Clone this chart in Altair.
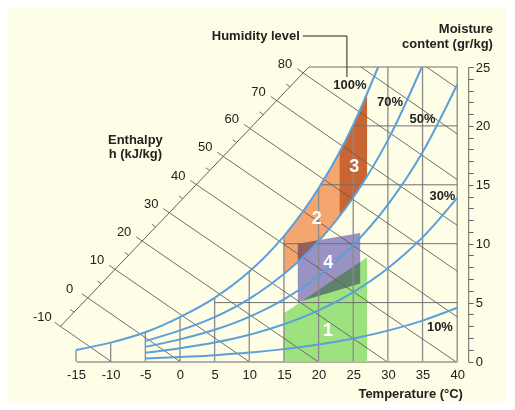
import altair as alt
import pandas as pd

# ---------------- data ----------------
temp_ticks = [-15, -10, -5, 0, 5, 10, 15, 20, 25, 30, 35, 40]
moist_ticks = list(range(0, 26))

# relative humidity curves (moisture g/kg at temperature)
sat_T = [-15, -10, -5, 0, 5, 10, 15, 20, 25, 28.6]
sat_w = [0.97, 1.6, 2.48, 3.77, 5.4, 7.63, 10.64, 14.7, 20.08, 25.0]
rh70_T = [-5, 0, 5, 10, 15, 20, 25, 30, 34.9]
rh70_w = [1.73, 2.64, 3.77, 5.32, 7.42, 10.21, 13.92, 18.79, 25.0]
rh_T = [-5, 0, 5, 10, 15, 20, 25, 30, 35, 40]
rh50_w = [1.24, 1.88, 2.69, 3.79, 5.28, 7.26, 9.88, 13.31, 17.76, 23.52]
rh30_w = [0.74, 1.13, 1.61, 2.27, 3.16, 4.34, 5.89, 7.92, 10.54, 13.90]
rh10_w = [0.25, 0.375, 0.535, 0.755, 1.05, 1.44, 1.95, 2.62, 3.47, 4.56]

# grid
vgrid_top = [0.97, 1.6, 2.48, 3.77, 5.4, 7.63, 10.64, 14.7, 20.08, 25, 25, 25]
hgrid_w = [5, 10, 15, 20, 25]
hgrid_start = [5, 15, 20.2, 25, 18.6]
hgrid_end = [40, 40, 40, 40, 40]

# enthalpy scale
h_values = [-10, 0, 10, 20, 30, 40, 50, 60, 70, 80]
h_axis_T = [-17.25, -13.31, -9.38, -5.46, -1.55, 2.34, 6.23, 10.08, 13.94, 17.76]
h_axis_w = [2.98, 5.40, 7.82, 10.23, 12.63, 15.02, 17.41, 19.78, 22.15, 24.50]
h_tick_T = [-18.1, -14.16, -10.23, -6.31, -2.4, 1.49, 5.38, 9.23, 13.09, 16.91]
h_tick_w = [3.33, 5.75, 8.17, 10.58, 12.98, 15.37, 17.76, 20.13, 22.50, 24.85]
h_end_T = [-9.94, 0, 9.94, 19.88, 29.82, 39.76, 40, 40, 40, 40]
h_end_w = [0, 0, 0, 0, 0, 0, 3.79, 7.67, 11.56, 15.44]
h_top_start_T = [26.1, 35.6]
h_top_start_w = [25, 25]
h_top_end_T = [40, 40]
h_top_end_w = [19.32, 23.2]
minor_T = [-15.28, -11.35, -7.41, -3.50, 0.40, 4.29, 8.16, 12.02, 15.86]
minor_w = [4.19, 6.61, 9.03, 11.43, 13.83, 16.22, 18.6, 20.97, 23.33]
minor_end_T = [-15.83, -11.9, -7.96, -4.05, -0.15, 3.74, 7.61, 11.47, 15.31]
minor_end_w = [4.41, 6.83, 9.25, 11.65, 14.05, 16.44, 18.82, 21.19, 23.55]
diag_T = [-17.25, 18.6]
diag_w = [2.98, 25]

# comfort regions
reg1_T = [15, 27]
reg1_lo = [0, 0]
reg1_hi = [4.1, 8.85]
reg2_T = [15, 17, 19, 21, 23]
reg2_lo = [7.41, 8.44, 9.59, 10.87, 12.31]
reg2_hi = [10.64, 12.13, 13.79, 15.65, 17.74]
reg3_T = [23, 24, 25, 26, 27]
reg3_lo = [12.31, 13.10, 13.92, 14.79, 15.72]
reg3_hi = [17.74, 18.88, 20.08, 21.35, 22.70]
reg4_T = [17, 26]
reg4_lo = [5.04, 6.63]
reg4_hi = [10.0, 10.9]

region_labels = ["1", "2", "3", "4"]
region_label_T = [21.35, 19.72, 25.14, 21.39]
region_label_w = [2.59, 12.07, 16.54, 8.34]

pct_labels = ["100%", "70%", "50%", "30%", "10%"]
pct_T = [24.52, 30.30, 34.99, 37.87, 37.51]
pct_w = [23.47, 22.03, 20.56, 14.05, 2.93]

title_texts = ["Humidity level", "Moisture", "content (gr/kg)", "Temperature (°C)"]
title_T = [17.3, 45.16, 45.16, 40.83]
title_w = [27.63, 28.24, 26.98, -2.76]

enth_title = ["Enthalpy", "h (kJ/kg)"]
enth_title_T = [-6.43, -6.43]
enth_title_w = [18.80, 17.61]

leader_x1 = [17.74, 24.09]
leader_x2 = [24.09, 24.09]
leader_y1 = [27.63, 27.63]
leader_y2 = [27.63, 24.15]

# ---------------- chart ----------------
FONT = "Liberation Sans"
BLUE = "#5B9FDB"
X = alt.Scale(domain=[-15, 40], nice=False, zero=False)
Y = alt.Scale(domain=[0, 25], nice=False, zero=False)

AX = alt.Axis(values=temp_ticks, ticks=False, tickSize=0, grid=False,
              labelExpr="'' + datum.value",
              labelPadding=7, labelFont=FONT, labelFontSize=13,
              labelColor="#222", domainColor="#666", labelFlush=False, title=None)
AY = alt.Axis(orient="right", values=moist_ticks, grid=False,
              labelExpr="datum.value % 5 == 0 ? '' + datum.value : ''",
              tickSize=5, tickColor="#666", domainColor="#666",
              offset=11, labelPadding=2, labelFont=FONT,
              labelFontSize=13, labelColor="#222", labelFlush=False, title=None)


def xe(field):
    return alt.X(field, scale=X, axis=AX, title=None)


def ye(field):
    return alt.Y(field, scale=Y, axis=AY, title=None)


def seg(x1, y1, x2, y2):
    return pd.DataFrame({"x1": x1, "y1": y1, "x2": x2, "y2": y2})


def rules(df, color, width):
    return alt.Chart(df).mark_rule(color=color, strokeWidth=width).encode(
        x=xe("x1:Q"), x2="x2:Q", y=ye("y1:Q"), y2="y2:Q")


def area(T, lo, hi, color, **kw):
    df = pd.DataFrame({"T": T, "lo": lo, "hi": hi})
    return alt.Chart(df).mark_area(color=color, **kw).encode(
        x=xe("T:Q"), y=ye("lo:Q"), y2="hi:Q")


def texts(labels, T, w, **kw):
    df = pd.DataFrame({"T": T, "w": w, "t": labels})
    return alt.Chart(df).mark_text(font=FONT, **kw).encode(
        x=xe("T:Q"), y=ye("w:Q"), text="t:N")


vgrid = pd.DataFrame({"x1": temp_ticks, "y1": [0] * len(temp_ticks),
                      "x2": temp_ticks, "y2": vgrid_top})

rh_df = pd.concat([
    pd.DataFrame({"T": sat_T, "w": sat_w, "rh": "100"}),
    pd.DataFrame({"T": rh70_T, "w": rh70_w, "rh": "70"}),
    pd.DataFrame({"T": rh_T, "w": rh50_w, "rh": "50"}),
    pd.DataFrame({"T": rh_T, "w": rh30_w, "rh": "30"}),
    pd.DataFrame({"T": rh_T, "w": rh10_w, "rh": "10"}),
])
rh_layer = alt.Chart(rh_df).mark_line(color=BLUE, strokeWidth=2, interpolate="monotone").encode(
    x=xe("T:Q"), y=ye("w:Q"), detail="rh:N")

layers = [
    area(reg1_T, reg1_lo, reg1_hi, "#9DE27F"),
    area(reg2_T, reg2_lo, reg2_hi, "#F5A56E", interpolate="monotone"),
    area(reg3_T, reg3_lo, reg3_hi, "#C96532", interpolate="monotone"),
    area(reg4_T, reg4_lo, reg4_hi, "#9C93DA", blend="multiply"),
    rules(vgrid, "#8A8A8A", 1.3),
    rules(seg(hgrid_start, hgrid_w, hgrid_end, hgrid_w), "#6E6E6E", 1),
    rules(seg(h_tick_T, h_tick_w, h_end_T, h_end_w), "#5F5F5F", 0.9),
    rules(seg(h_top_start_T, h_top_start_w, h_top_end_T, h_top_end_w), "#5F5F5F", 0.9),
    rules(seg(minor_T, minor_w, minor_end_T, minor_end_w), "#5F5F5F", 0.9),
    rules(seg(diag_T[:1], diag_w[:1], diag_T[1:], diag_w[1:]), "#5F5F5F", 1),
    rules(seg(leader_x1, leader_y1, leader_x2, leader_y2), "#222222", 1),
    rh_layer,
    texts([str(h) for h in h_values], h_axis_T, h_axis_w, dx=-18, dy=-9,
          fontSize=13, color="#222", align="center", baseline="middle"),
    texts(pct_labels, pct_T, pct_w, fontSize=13, fontWeight="bold", color="#222",
          align="center", baseline="middle"),
    texts(title_texts, title_T, title_w, fontSize=13, fontWeight="bold", color="#222",
          align="right", baseline="middle"),
    texts(enth_title, enth_title_T, enth_title_w, fontSize=13, fontWeight="bold",
          color="#222", align="center", baseline="middle"),
    texts(region_labels, region_label_T, region_label_w, fontSize=18, fontWeight="bold",
          color="white", align="center", baseline="middle"),
]

chart = alt.layer(*layers).properties(
    width=381.2, height=294.5,
    padding={"left": 68, "top": 59, "right": 49, "bottom": 40},
    autosize=alt.AutoSizeParams(type="none"),
    background="#FEFDE6",
).configure_view(strokeWidth=0)

chart.save("out.html", embed_options={"renderer": "svg", "actions": False})
